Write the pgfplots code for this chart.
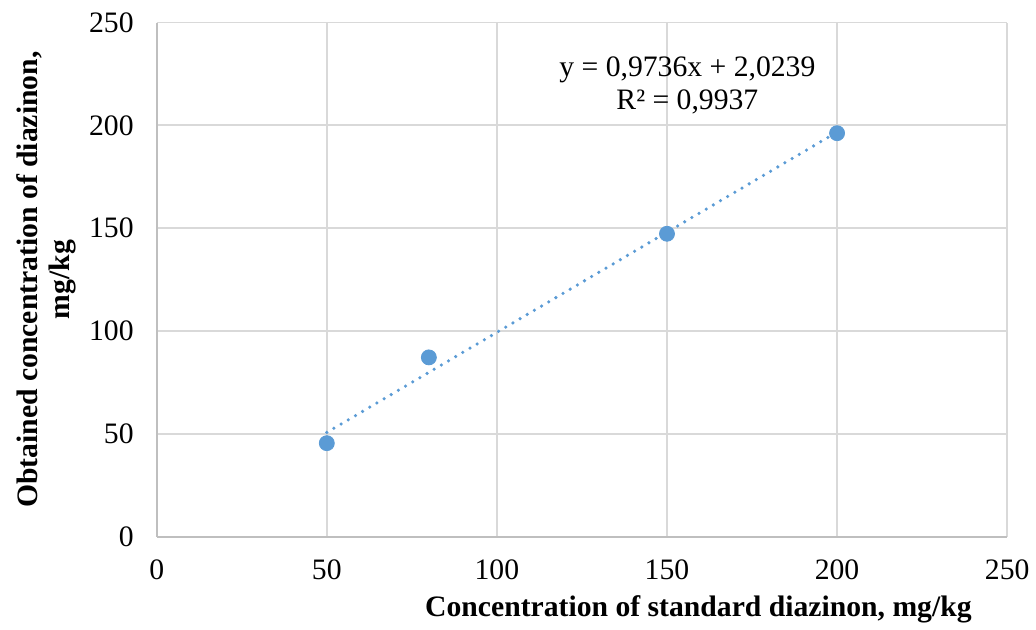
\documentclass[border={5pt 0pt 0pt 3pt}]{standalone}
\usepackage{fontspec}
\setmainfont{Liberation Serif}
\usepackage{pgfplots}
\pgfplotsset{compat=1.18}
\definecolor{ptblue}{HTML}{5B9BD5}
\definecolor{gridgray}{HTML}{D9D9D9}
\definecolor{axisgray}{HTML}{BFBFBF}

\begin{document}
\begin{tikzpicture}
\begin{axis}[scale only axis,width=430pt,height=260pt,
  xmin=0,xmax=250,ymin=0,ymax=250,
  xtick={0,50,...,250},ytick={0,50,...,250},
  axis x line=bottom,axis y line=left,
  axis line style={axisgray,line width=0.9pt,-},
  grid=major,major grid style={gridgray,line width=0.9pt},
  tick style={draw=none},
  /pgf/number format/assume math mode=true,
  tick label style={font=\fontsize{15}{17}\selectfont},
  xticklabel style={yshift=-6pt},
  yticklabel style={xshift=-6pt},
  xlabel={\textbf{Concentration of standard diazinon, mg/kg}},
  xlabel style={font=\fontsize{15}{17}\selectfont,at={(axis description cs:0.637,0)},anchor=north,yshift=-26pt},
  ylabel={\textbf{Obtained concentration of diazinon,}\\\textbf{mg/kg}},
  ylabel style={font=\fontsize{15}{16}\selectfont,align=center,yshift=0pt},
  clip=false]
\addplot[ptblue,line width=1.8pt,line cap=round,dash pattern=on 0pt off 4.2pt] coordinates {(50,50.70)(200,196.74)};
\addplot[only marks,mark=*,mark size=3.8pt,ptblue,mark options={draw=ptblue,fill=ptblue}] coordinates {
(50,45.5)(80,87.2)(150,147.3)(200,196.2)};
\node[align=center,font=\fontsize{15}{17}\selectfont] at (axis cs:156,219.5) {y = 0,9736x + 2,0239\\R² = 0,9937};
\end{axis}
\end{tikzpicture}
\end{document}
